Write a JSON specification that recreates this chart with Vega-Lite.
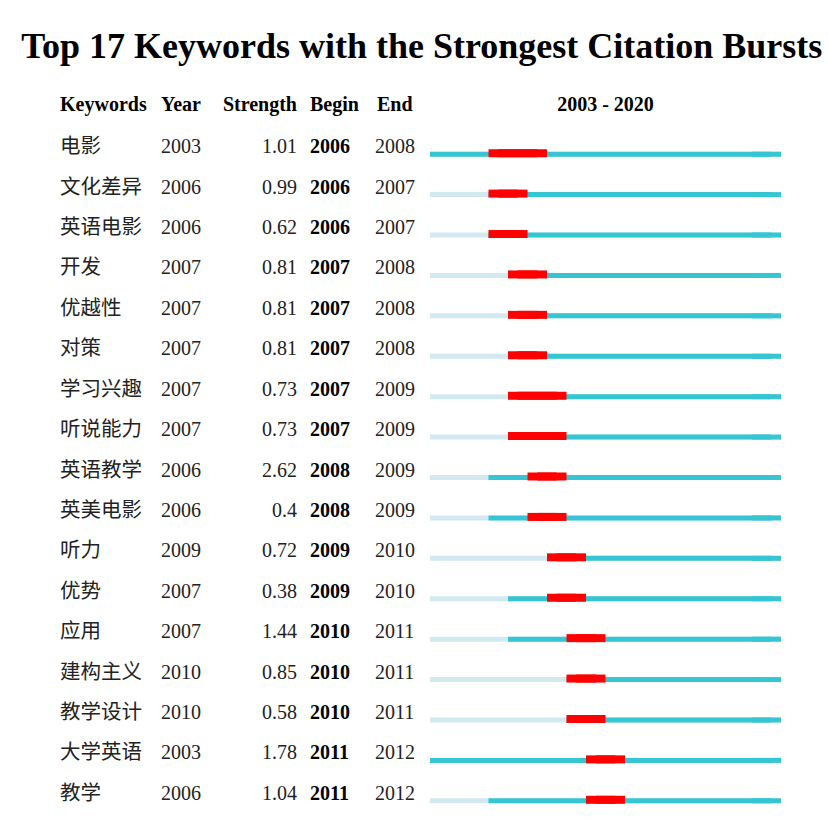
{
  "$schema": "https://vega.github.io/schema/vega-lite/v6.json",
  "background": "white",
  "padding": {"left": 21, "top": 29, "right": 0, "bottom": 0},
  "title": {"text": "Top 17 Keywords with the Strongest Citation Bursts", "font": "Liberation Serif", "fontSize": 36, "fontWeight": "bold", "color": "#000", "anchor": "middle", "offset": 29},
  "data": {"values": [
    {"keyword": "电影", "year": 2003, "strength": 1.01, "begin": 2006, "end": 2008},
    {"keyword": "文化差异", "year": 2006, "strength": 0.99, "begin": 2006, "end": 2007},
    {"keyword": "英语电影", "year": 2006, "strength": 0.62, "begin": 2006, "end": 2007},
    {"keyword": "开发", "year": 2007, "strength": 0.81, "begin": 2007, "end": 2008},
    {"keyword": "优越性", "year": 2007, "strength": 0.81, "begin": 2007, "end": 2008},
    {"keyword": "对策", "year": 2007, "strength": 0.81, "begin": 2007, "end": 2008},
    {"keyword": "学习兴趣", "year": 2007, "strength": 0.73, "begin": 2007, "end": 2009},
    {"keyword": "听说能力", "year": 2007, "strength": 0.73, "begin": 2007, "end": 2009},
    {"keyword": "英语教学", "year": 2006, "strength": 2.62, "begin": 2008, "end": 2009},
    {"keyword": "英美电影", "year": 2006, "strength": 0.4, "begin": 2008, "end": 2009},
    {"keyword": "听力", "year": 2009, "strength": 0.72, "begin": 2009, "end": 2010},
    {"keyword": "优势", "year": 2007, "strength": 0.38, "begin": 2009, "end": 2010},
    {"keyword": "应用", "year": 2007, "strength": 1.44, "begin": 2010, "end": 2011},
    {"keyword": "建构主义", "year": 2010, "strength": 0.85, "begin": 2010, "end": 2011},
    {"keyword": "教学设计", "year": 2010, "strength": 0.58, "begin": 2010, "end": 2011},
    {"keyword": "大学英语", "year": 2003, "strength": 1.78, "begin": 2011, "end": 2012},
    {"keyword": "教学", "year": 2006, "strength": 1.04, "begin": 2011, "end": 2012}
  ]},
  "spacing": 0,
  "config": {"view": {"stroke": null}},
  "hconcat": [
    {
      "width": 101, "height": 687,
      "title": {"text": "Keywords", "anchor": "start", "font": "Liberation Serif", "fontSize": 20, "fontWeight": "bold", "color": "#000", "offset": 12},
      "mark": {"type": "text", "align": "left", "baseline": "middle", "font": "Noto Sans CJK SC", "fontSize": 20.5, "color": "#222"},
      "encoding": {
        "y": {"field": "keyword", "type": "nominal", "sort": null, "scale": {"type": "point", "padding": 0.5}, "axis": null},
        "x": {"value": 0},
        "text": {"field": "keyword"}
      }
    },
    {
      "width": 56, "height": 687,
      "title": {"text": "Year", "anchor": "start", "font": "Liberation Serif", "fontSize": 20, "fontWeight": "bold", "color": "#000", "offset": 12},
      "mark": {"type": "text", "align": "left", "baseline": "middle", "font": "Liberation Serif", "fontSize": 20, "color": "#222"},
      "encoding": {
        "y": {"field": "keyword", "type": "nominal", "sort": null, "scale": {"type": "point", "padding": 0.5}, "axis": null},
        "x": {"value": 0},
        "text": {"field": "year"}
      }
    },
    {
      "width": 80, "height": 687,
      "title": {"text": "Strength", "anchor": "end", "font": "Liberation Serif", "fontSize": 20, "fontWeight": "bold", "color": "#000", "offset": 12},
      "mark": {"type": "text", "align": "right", "baseline": "middle", "font": "Liberation Serif", "fontSize": 20, "color": "#222"},
      "encoding": {
        "y": {"field": "keyword", "type": "nominal", "sort": null, "scale": {"type": "point", "padding": 0.5}, "axis": null},
        "x": {"value": 80},
        "text": {"field": "strength"}
      }
    },
    {
      "width": 78, "height": 687,
      "title": {"text": "Begin", "anchor": "start", "dx": 13, "font": "Liberation Serif", "fontSize": 20, "fontWeight": "bold", "color": "#000", "offset": 12},
      "mark": {"type": "text", "align": "left", "baseline": "middle", "font": "Liberation Serif", "fontSize": 20, "fontWeight": "bold", "color": "#000"},
      "encoding": {
        "y": {"field": "keyword", "type": "nominal", "sort": null, "scale": {"type": "point", "padding": 0.5}, "axis": null},
        "x": {"value": 13},
        "text": {"field": "begin"}
      }
    },
    {
      "width": 52, "height": 687,
      "title": {"text": "End", "anchor": "start", "dx": 2, "font": "Liberation Serif", "fontSize": 20, "fontWeight": "bold", "color": "#000", "offset": 12},
      "mark": {"type": "text", "align": "left", "baseline": "middle", "font": "Liberation Serif", "fontSize": 20, "color": "#222"},
      "encoding": {
        "y": {"field": "keyword", "type": "nominal", "sort": null, "scale": {"type": "point", "padding": 0.5}, "axis": null},
        "x": {"value": 0},
        "text": {"field": "end"}
      }
    },
    {
      "width": 351, "height": 687,
      "title": {"text": "2003 - 2020", "anchor": "middle", "font": "Liberation Serif", "fontSize": 20, "fontWeight": "bold", "color": "#000", "offset": 12},
      "encoding": {
        "y": {"field": "keyword", "type": "nominal", "sort": null, "scale": {"type": "point", "padding": 0.5}, "axis": null}
      },
      "layer": [
        {
          "mark": {"type": "rule", "strokeWidth": 5, "color": "#d2e9f2", "yOffset": 7, "strokeCap": "butt"},
          "encoding": {}
        },
        {
          "mark": {"type": "rule", "strokeWidth": 5, "color": "#36c5d3", "yOffset": 7, "strokeCap": "butt"},
          "encoding": {
            "x": {"field": "year", "type": "ordinal", "bandPosition": 0, "scale": {"type": "band", "domain": [2003,2004,2005,2006,2007,2008,2009,2010,2011,2012,2013,2014,2015,2016,2017,2018,2019,2020], "paddingInner": 0, "paddingOuter": 0}, "axis": null},
            "x2": {"datum": 2020}
          }
        },
        {
          "mark": {"type": "rule", "strokeWidth": 5, "color": "#36c5d3", "yOffset": 7, "strokeCap": "butt"},
          "encoding": {
            "x": {"datum": 2020, "type": "ordinal", "bandPosition": 1},
            "x2": {"datum": 2019}
          }
        },
        {
          "mark": {"type": "rule", "strokeWidth": 8, "color": "#ff0000", "yOffset": 6, "strokeCap": "butt"},
          "encoding": {
            "x": {"field": "begin", "type": "ordinal", "bandPosition": 0},
            "x2": {"field": "end"}
          }
        },
        {
          "mark": {"type": "rule", "strokeWidth": 8, "color": "#ff0000", "yOffset": 6, "strokeCap": "butt"},
          "encoding": {
            "x": {"field": "end", "type": "ordinal", "bandPosition": 1},
            "x2": {"field": "begin"}
          }
        }
      ]
    }
  ]
}
